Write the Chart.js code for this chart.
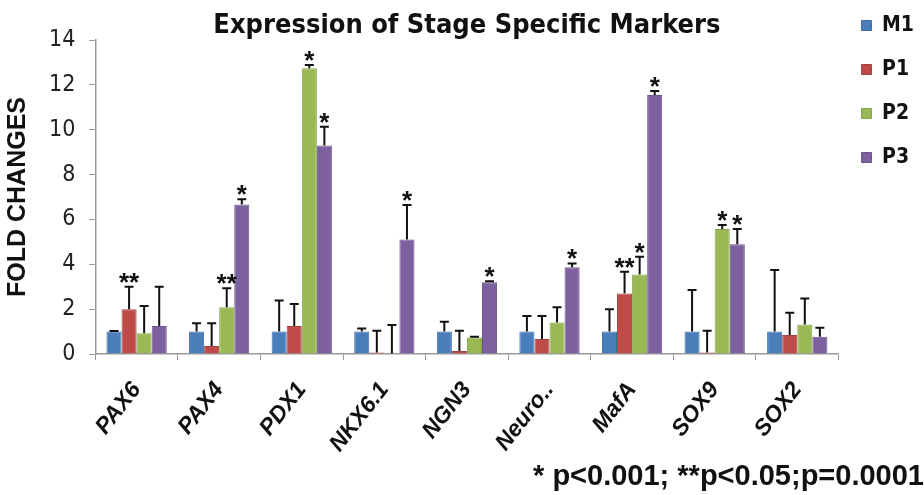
<!DOCTYPE html>
<html>
<head>
<meta charset="utf-8">
<script src="https://cdn.jsdelivr.net/npm/chart.js@4/dist/chart.umd.min.js"></script>
<style>
  html, body { margin: 0; padding: 0; background: #fff; }
  #wrap { width: 924px; height: 495px; position: relative; }
</style>
</head>
<body>
<div id="wrap"><canvas id="chart"></canvas></div>
<script>
// categories
const markers = ['PAX6', 'PAX4', 'PDX1', 'NKX6.1', 'NGN3', 'Neuro..', 'MafA', 'SOX9', 'SOX2'];

// fold changes per stage
const m1 = [1.0, 1.0, 1.0, 1.0, 1.0, 1.0, 1.0, 1.0, 1.0];
const p1 = [2.0, 0.36, 1.25, 0.07, 0.13, 0.67, 2.7, 0.07, 0.85];
const p2 = [0.92, 2.08, 12.74, 0.02, 0.74, 1.4, 3.55, 5.57, 1.32];
const p3 = [1.25, 6.67, 9.3, 5.11, 3.2, 3.87, 11.55, 4.89, 0.77];

// upper end of each error bar
const m1Err = [1.03, 1.37, 2.38, 1.14, 1.44, 1.69, 2.0, 2.85, 3.74];
const p1Err = [3.0, 1.37, 2.23, 1.04, 1.04, 1.69, 3.67, 1.04, 1.84];
const p2Err = [2.14, 2.93, 12.88, 1.29, 0.77, 2.08, 4.34, 5.75, 2.48];
const p3Err = [3.0, 6.9, 10.13, 6.64, 3.24, 4.04, 11.73, 5.57, 1.17];

// significance marks
const m1Sig = ['', '', '', '', '', '', '', '', ''];
const p1Sig = ['**', '', '', '', '', '', '**', '', ''];
const p2Sig = ['', '**', '*', '', '', '', '*', '*', ''];
const p3Sig = ['', '*', '*', '*', '*', '*', '*', '*', ''];

const yTicks = [0, 2, 4, 6, 8, 10, 12, 14];

const NARROW = '"Liberation Sans Narrow", "DejaVu Sans Condensed", sans-serif';
const SANS = '"Liberation Sans", Arial, sans-serif';

const errorBars = {
    id: 'errorBars',
    afterDatasetsDraw(chart) {
        const ctx = chart.ctx;
        const yScale = chart.scales.y;
        ctx.save();
        chart.data.datasets.forEach((ds, di) => {
            const meta = chart.getDatasetMeta(di);
            meta.data.forEach((bar, i) => {
                const top = yScale.getPixelForValue(ds.errTop[i]);
                ctx.strokeStyle = '#111';
                ctx.lineWidth = 2;
                ctx.beginPath();
                ctx.moveTo(bar.x, bar.y);
                ctx.lineTo(bar.x, top);
                ctx.moveTo(bar.x - 4.5, top);
                ctx.lineTo(bar.x + 4.5, top);
                ctx.stroke();
                const mark = ds.sig[i];
                if (mark) {
                    ctx.fillStyle = '#111';
                    ctx.font = 'bold 26px ' + SANS;
                    ctx.textAlign = 'center';
                    ctx.textBaseline = 'alphabetic';
                    const m = ctx.measureText(mark);
                    ctx.fillText(mark, bar.x, top - 4 - m.actualBoundingBoxDescent);
                }
            });
        });
        ctx.restore();
    }
};

const makeSet = (label, data, errTop, sig, fill, edge) => ({
    label, data, errTop, sig,
    backgroundColor: fill,
    borderColor: edge,
    borderWidth: 1
});

new Chart(document.getElementById('chart'), {
    type: 'bar',
    data: {
        labels: markers,
        datasets: [
            makeSet('M1', m1, m1Err, m1Sig, '#4a7ebb', '#3d6ca5'),
            makeSet('P1', p1, p1Err, p1Sig, '#be4b48', '#a5423f'),
            makeSet('P2', p2, p2Err, p2Sig, '#98b954', '#86a34a'),
            makeSet('P3', p3, p3Err, p3Sig, '#7d60a0', '#6c5389')
        ]
    },
    options: {
        responsive: true,
        maintainAspectRatio: false,
        animation: false,
        layout: { padding: { left: 6, right: 0, top: -8, bottom: 0 } },
        datasets: { bar: { categoryPercentage: 0.73, barPercentage: 1.0 } },
        plugins: {
            tooltip: { enabled: false },
            title: {
                display: true,
                fullSize: false,
                text: 'Expression of Stage Specific Markers',
                color: '#111',
                font: { family: NARROW, size: 27, weight: 'bold', lineHeight: 1.0 },
                padding: { top: 20, bottom: 1 }
            },
            subtitle: {
                display: true,
                position: 'bottom',
                align: 'end',
                text: '* p<0.001; **p<0.05;p=0.0001',
                color: '#111',
                font: { family: SANS, size: 29, weight: 'bold', lineHeight: 1.0 },
                padding: { top: 0, bottom: 4 }
            },
            legend: {
                position: 'right',
                align: 'start',
                maxWidth: 86,
                labels: {
                    boxWidth: 10,
                    boxHeight: 10,
                    padding: 23,
                    color: '#111',
                    font: { family: NARROW, size: 21, weight: 'bold' }
                }
            }
        },
        scales: {
            x: {
                afterFit: (scale) => { scale.height = 108; },
                grid: { drawOnChartArea: false, drawTicks: true, tickLength: 6, color: '#999', offset: true },
                border: { color: '#999', width: 1.5 },
                ticks: {
                    maxRotation: 52, minRotation: 52,
                    color: '#111',
                    padding: 17,
                    font: { family: SANS, size: 23, weight: 'bold', style: 'italic' }
                }
            },
            y: {
                min: 0, max: 14,
                afterBuildTicks: (axis) => { axis.ticks = yTicks.map(v => ({ value: v })); },
                grid: { drawOnChartArea: false, drawTicks: true, tickLength: 6, color: '#999' },
                border: { color: '#999', width: 1.5 },
                ticks: {
                    color: '#222',
                    padding: 14,
                    font: { family: NARROW, size: 23 }
                },
                title: {
                    display: true,
                    text: 'FOLD CHANGES',
                    color: '#111',
                    font: { family: SANS, size: 25, weight: 'bold', lineHeight: 1.0 },
                    padding: { top: 0, bottom: 4 }
                }
            }
        }
    },
    plugins: [errorBars]
});
</script>
</body>
</html>
